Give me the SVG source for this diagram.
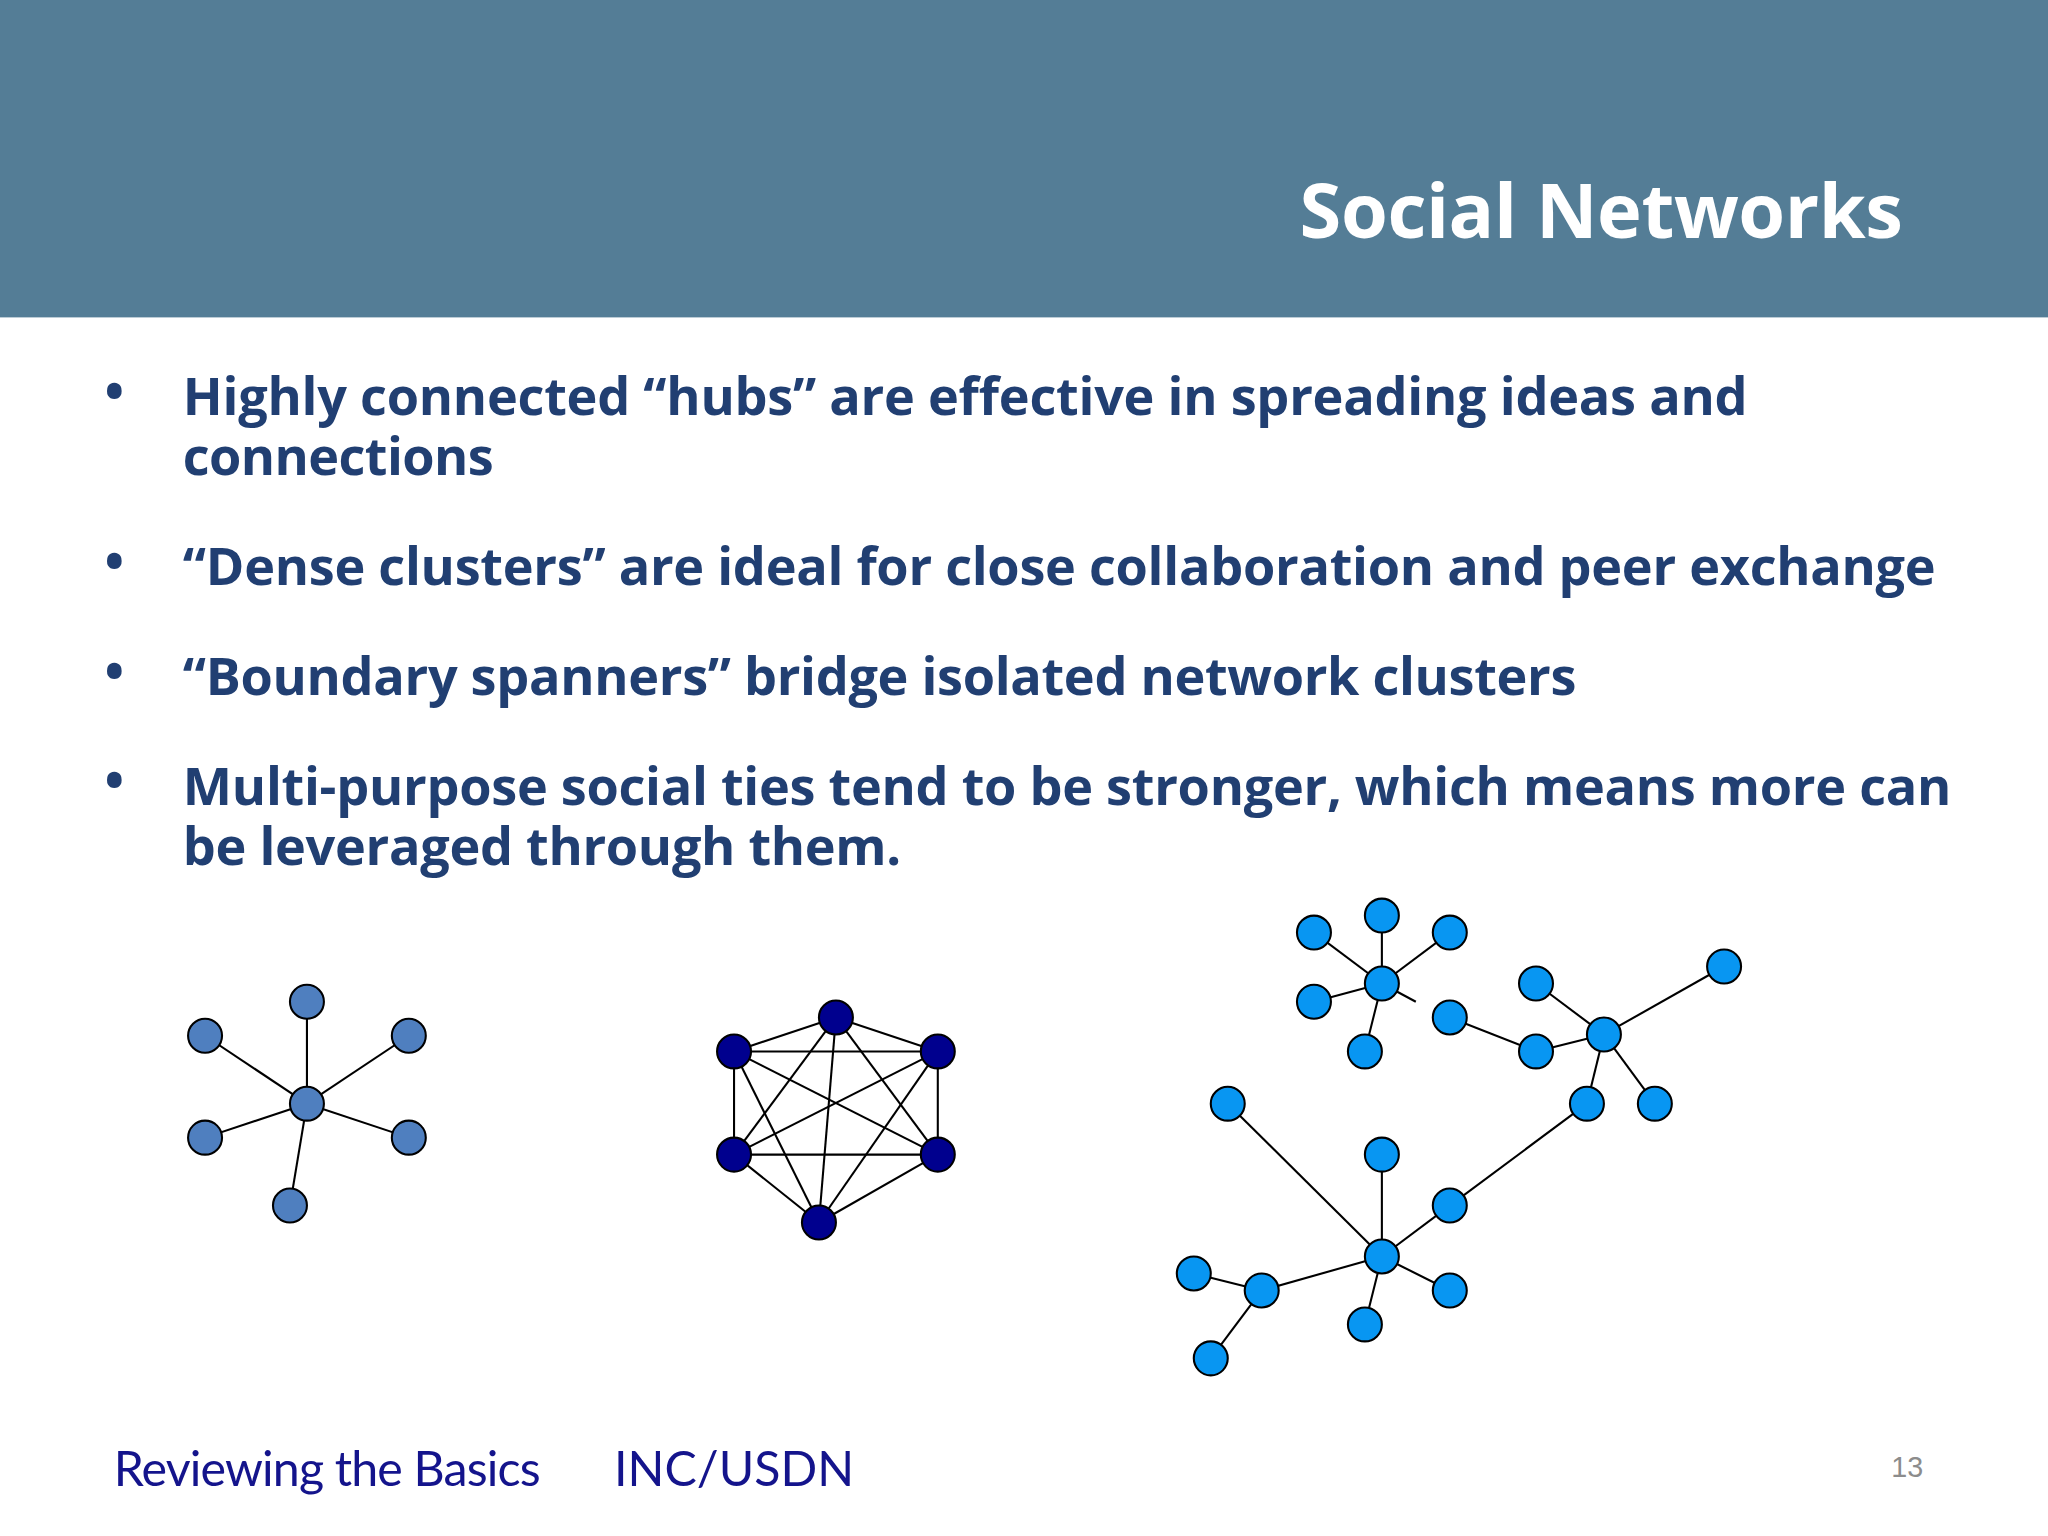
<svg xmlns="http://www.w3.org/2000/svg" width="2048" height="1536" viewBox="0 0 2048 1536">
<style>
.b{font-family:"Open Sans","Liberation Sans",sans-serif;font-weight:bold;font-size:40px;fill:#213f72}
.f{font-family:"Lato","Liberation Sans",sans-serif;font-size:37px;fill:#14148c}
.e line{stroke:#000;stroke-width:1.6}
.n circle{stroke:#000;stroke-width:1.6}
.n1 circle{fill:#4f7fbf}.n2 circle{fill:#00008e}.n3 circle{fill:#0896f2}
</style>
<rect width="2048" height="1536" fill="#fff"/>
<g transform="scale(1.30612)">
<rect x="0" y="0" width="1568" height="243" fill="#547d96"/>
<text x="1457" y="182" text-anchor="end" font-family="Open Sans, Liberation Sans, sans-serif" font-weight="bold" font-size="58" fill="#fff" textLength="462">Social Networks</text>
<g id="bullets">
<text class="b" x="80" y="314">•</text>
<text class="b" x="140" y="318" textLength="1198">Highly connected “hubs” are effective in spreading ideas and</text>
<text class="b" x="140" y="364" textLength="238">connections</text>
<text class="b" x="80" y="444">•</text>
<text class="b" x="140" y="448" textLength="1342">“Dense clusters” are ideal for close collaboration and peer exchange</text>
<text class="b" x="80" y="528">•</text>
<text class="b" x="140" y="532" textLength="1067">“Boundary spanners” bridge isolated network clusters</text>
<text class="b" x="80" y="612">•</text>
<text class="b" x="140" y="616" textLength="1354">Multi-purpose social ties tend to be stronger, which means more can</text>
<text class="b" x="140" y="662" textLength="550">be leveraged through them.</text>
</g>
<g id="connectors" class="e">
<line x1="235" y1="845" x2="235" y2="767"/><line x1="235" y1="845" x2="157" y2="793"/><line x1="235" y1="845" x2="313" y2="793"/><line x1="235" y1="845" x2="157" y2="871"/><line x1="235" y1="845" x2="313" y2="871"/><line x1="235" y1="845" x2="222" y2="923"/>
<line x1="640" y1="779" x2="562" y2="805"/><line x1="640" y1="779" x2="718" y2="805"/><line x1="640" y1="779" x2="562" y2="884"/><line x1="640" y1="779" x2="718" y2="884"/><line x1="640" y1="779" x2="627" y2="936"/>
<line x1="562" y1="805" x2="718" y2="805"/><line x1="562" y1="805" x2="562" y2="884"/><line x1="562" y1="805" x2="718" y2="884"/><line x1="562" y1="805" x2="627" y2="936"/>
<line x1="718" y1="805" x2="562" y2="884"/><line x1="718" y1="805" x2="718" y2="884"/><line x1="718" y1="805" x2="627" y2="936"/>
<line x1="562" y1="884" x2="718" y2="884"/><line x1="562" y1="884" x2="627" y2="936"/><line x1="718" y1="884" x2="627" y2="936"/>
<line x1="1058" y1="753" x2="1006" y2="714"/><line x1="1058" y1="753" x2="1058" y2="701"/><line x1="1058" y1="753" x2="1110" y2="714"/><line x1="1058" y1="753" x2="1006" y2="767"/><line x1="1058" y1="753" x2="1045" y2="805"/><line x1="1058" y1="753" x2="1084" y2="767"/>
<line x1="1228" y1="792" x2="1176" y2="753"/><line x1="1228" y1="792" x2="1320" y2="740"/><line x1="1228" y1="792" x2="1176" y2="805"/><line x1="1176" y1="805" x2="1110" y2="779"/><line x1="1228" y1="792" x2="1215" y2="845"/><line x1="1228" y1="792" x2="1267" y2="845"/>
<line x1="1058" y1="962" x2="940" y2="845"/><line x1="1058" y1="962" x2="1058" y2="884"/><line x1="1058" y1="962" x2="1110" y2="923"/><line x1="1110" y1="923" x2="1215" y2="845"/><line x1="1058" y1="962" x2="1110" y2="988"/><line x1="1058" y1="962" x2="1045" y2="1014"/><line x1="1058" y1="962" x2="966" y2="988"/><line x1="966" y1="988" x2="914" y2="975"/><line x1="966" y1="988" x2="927" y2="1040"/>
</g>
<g id="hub-network" class="n n1">
<circle cx="235" cy="845" r="13"/><circle cx="235" cy="767" r="13"/><circle cx="157" cy="793" r="13"/><circle cx="313" cy="793" r="13"/><circle cx="157" cy="871" r="13"/><circle cx="313" cy="871" r="13"/><circle cx="222" cy="923" r="13"/>
</g>
<g id="dense-cluster" class="n n2">
<circle cx="640" cy="779" r="13"/><circle cx="562" cy="805" r="13"/><circle cx="718" cy="805" r="13"/><circle cx="562" cy="884" r="13"/><circle cx="718" cy="884" r="13"/><circle cx="627" cy="936" r="13"/>
</g>
<g id="boundary-network" class="n n3">
<circle cx="1058" cy="753" r="13"/><circle cx="1006" cy="714" r="13"/><circle cx="1058" cy="701" r="13"/><circle cx="1110" cy="714" r="13"/><circle cx="1006" cy="767" r="13"/><circle cx="1045" cy="805" r="13"/>
<circle cx="1228" cy="792" r="13"/><circle cx="1176" cy="753" r="13"/><circle cx="1320" cy="740" r="13"/><circle cx="1176" cy="805" r="13"/><circle cx="1110" cy="779" r="13"/><circle cx="1215" cy="845" r="13"/><circle cx="1267" cy="845" r="13"/>
<circle cx="1058" cy="962" r="13"/><circle cx="940" cy="845" r="13"/><circle cx="1058" cy="884" r="13"/><circle cx="1110" cy="923" r="13"/><circle cx="1110" cy="988" r="13"/><circle cx="1045" cy="1014" r="13"/><circle cx="966" cy="988" r="13"/><circle cx="914" cy="975" r="13"/><circle cx="927" cy="1040" r="13"/>
</g>
<g id="footer">
<text class="f" x="87" y="1138" textLength="327">Reviewing the Basics</text>
<text class="f" x="470" y="1138" textLength="184">INC/USDN</text>
<text x="1448" y="1131" font-family="Liberation Sans, sans-serif" font-size="22" fill="#8c8c8c">13</text>
</g>
</g>
</svg>
